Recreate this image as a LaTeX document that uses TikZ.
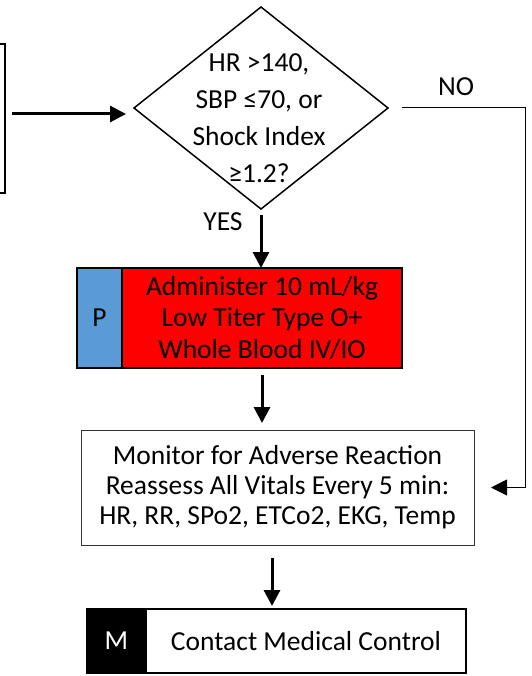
\documentclass[tikz,border=0pt]{standalone}
\usepackage{fontspec}
\setmainfont{Carlito}
\usetikzlibrary{arrows.meta,positioning,shapes.geometric}
\definecolor{tagblue}{RGB}{91,155,213}

\begin{document}
\begin{tikzpicture}[x=1pt,y=-1pt,>={Triangle[width=16pt,length=16pt]},
  box/.style={draw,rectangle,inner sep=0pt,outer sep=0pt,align=center,font=\fontsize{27.5}{30}\selectfont},
  decision/.style={draw,diamond,line width=1.5pt,inner sep=0pt,outer sep=0pt,minimum width=254pt,minimum height=202pt},
  flow/.style={->,line width=3pt},
  noflow/.style={->,line width=1pt},
  lbl/.style={font=\fontsize{27.5}{30}\selectfont}]
  % page
  \useasboundingbox (0,0) rectangle (531,676);
  \clip (0,0) rectangle (531,676);

  % boxes
  \node[box,line width=1.5pt,minimum width=60pt,minimum height=149pt,anchor=east] (prev) at (5,118.5) {};
  \node[decision] (check) at (261,108) {};
  \node[lbl,align=center,font=\fontsize{27.5}{37}\selectfont] (checktext) at (259,118) {HR >140,\\SBP ≤70, or\\Shock Index\\≥1.2?};
  \node[box,fill=red,line width=1.5pt,minimum width=280pt,minimum height=100pt,font=\fontsize{27.5}{31.5}\selectfont] (blood) at (262,318) {Administer 10 mL/kg\\Low Titer Type O+\\Whole Blood IV/IO};
  \node[box,fill=tagblue,line width=1.5pt,minimum width=45pt,minimum height=100pt,left=0pt of blood] (ptag) {P};
  \node[box,draw=black!80,line width=1pt,minimum width=393pt,minimum height=115pt] (monitor) at (277.5,487.5) {Monitor for Adverse Reaction\\Reassess All Vitals Every 5 min:\\HR, RR, SPo2, ETCo2, EKG, Temp};
  \node[box,line width=2pt,minimum width=320pt,minimum height=64pt] (contact) at (306,641) {Contact Medical Control};
  \node[box,fill=black,text=white,line width=2pt,minimum width=59pt,minimum height=64pt,left=0pt of contact] (mtag) {M};

  % labels
  \node[lbl] (yes) at (223,222) {YES};
  \node[lbl] (no) at (456,87) {NO};

  % arrows
  \coordinate (feed) at (5,114);
  \draw[flow,shorten <=7pt,shorten >=8pt] (feed) -- (feed -| check.west);
  \draw[flow,shorten <=6pt] (check.south) -- (check.south |- blood.north);
  \draw[flow,shorten <=7pt,shorten >=7pt] (blood.south) -- (blood.south |- monitor.north);
  \draw[flow,shorten <=13pt,shorten >=3pt] ([xshift=-5.5pt]monitor.south) -- ([xshift=-5.5pt]monitor.south |- contact.north);
  \draw[noflow,shorten <=14pt,shorten >=17pt] (check.east) -- ++(137,0) |- (monitor.east);
\end{tikzpicture}
\end{document}
